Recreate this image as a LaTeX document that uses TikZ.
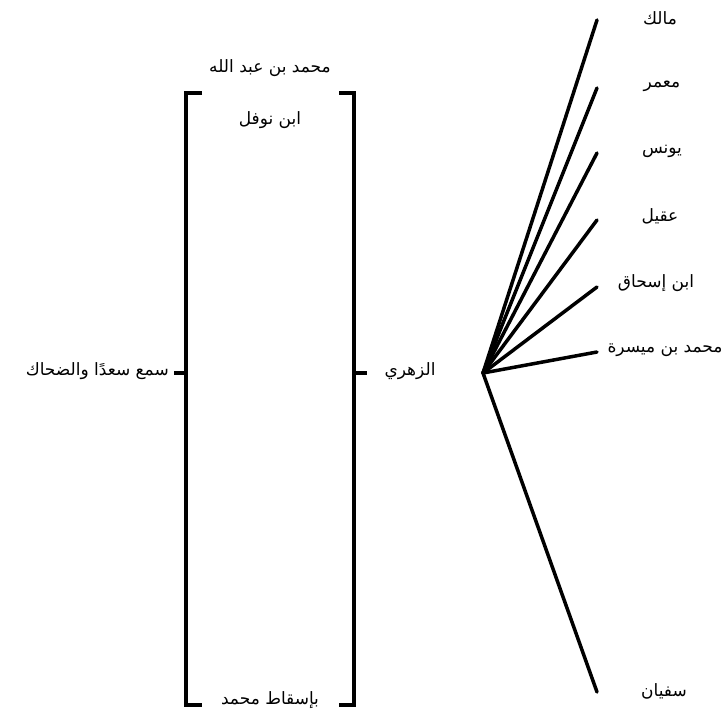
\documentclass[tikz,border=0pt]{standalone}
\usepackage{fontspec}
\usepackage{tikz}
\usetikzlibrary{positioning}
\TeXXeTstate=1
\newfontfamily\arabicfont[Script=Arabic]{DejaVu Sans}
\newcommand{\artext}[1]{\arabicfont\beginR #1\endR}

\begin{document}
\begin{tikzpicture}[x=1pt, y=-1pt,
    bracket/.style={line width=3.5pt, line cap=butt, line join=miter},
    branch/.style={line width=3.5pt, line cap=round},
    label/.style={font=\fontsize{17}{20}\selectfont, inner sep=1pt},
]
    \useasboundingbox (0,0) rectangle (726,721);

    % left bracket
    \draw[bracket] (202,93) -- (186,93) -- (186,705) -- (202,705);
    \draw[bracket] (186,373) -- (174,373);
    % right bracket
    \draw[bracket] (339,93) -- (354,93) -- (354,705) -- (339,705);
    \draw[bracket] (354,373) -- (367,373);

    % texts round the brackets
    \node[label] (top) at (270,68) {\artext{محمد بن عبد الله}};
    \node[label] (nawfal) at (270,120) {\artext{ابن نوفل}};
    \node[label] (isqat) at (270,700) {\artext{بإسقاط محمد}};
    \node[label, anchor=east] (sami) at (170,371) {\artext{سمع سعدًا والضحاك}};
    \node[label] (zuhri) at (410,371) {\artext{الزهري}};

    % fan of students
    \coordinate (hub) at (483,373);
    \coordinate (e1) at (597,20);
    \coordinate (e2) at (597,88);
    \coordinate (e3) at (597,153);
    \coordinate (e4) at (597,220);
    \coordinate (e5) at (597,287);
    \coordinate (e6) at (597,352);
    \coordinate (e7) at (597,692);
    \foreach \e in {e1,e2,e3,e4,e5,e6,e7}
        \draw[branch] (hub) -- (\e);

    \node[label] (malik) at (660,18) {\artext{مالك}};
    \node[label] (mamar) at (662,86) {\artext{معمر}};
    \node[label] (yunus) at (662,151) {\artext{يونس}};
    \node[label] (uqayl) at (660,216) {\artext{عقيل}};
    \node[label] (ishaq) at (656,283) {\artext{ابن إسحاق}};
    \node[label] (maysara) at (665,350) {\artext{محمد بن ميسرة}};
    \node[label] (sufyan) at (664,691) {\artext{سفيان}};
\end{tikzpicture}
\end{document}
